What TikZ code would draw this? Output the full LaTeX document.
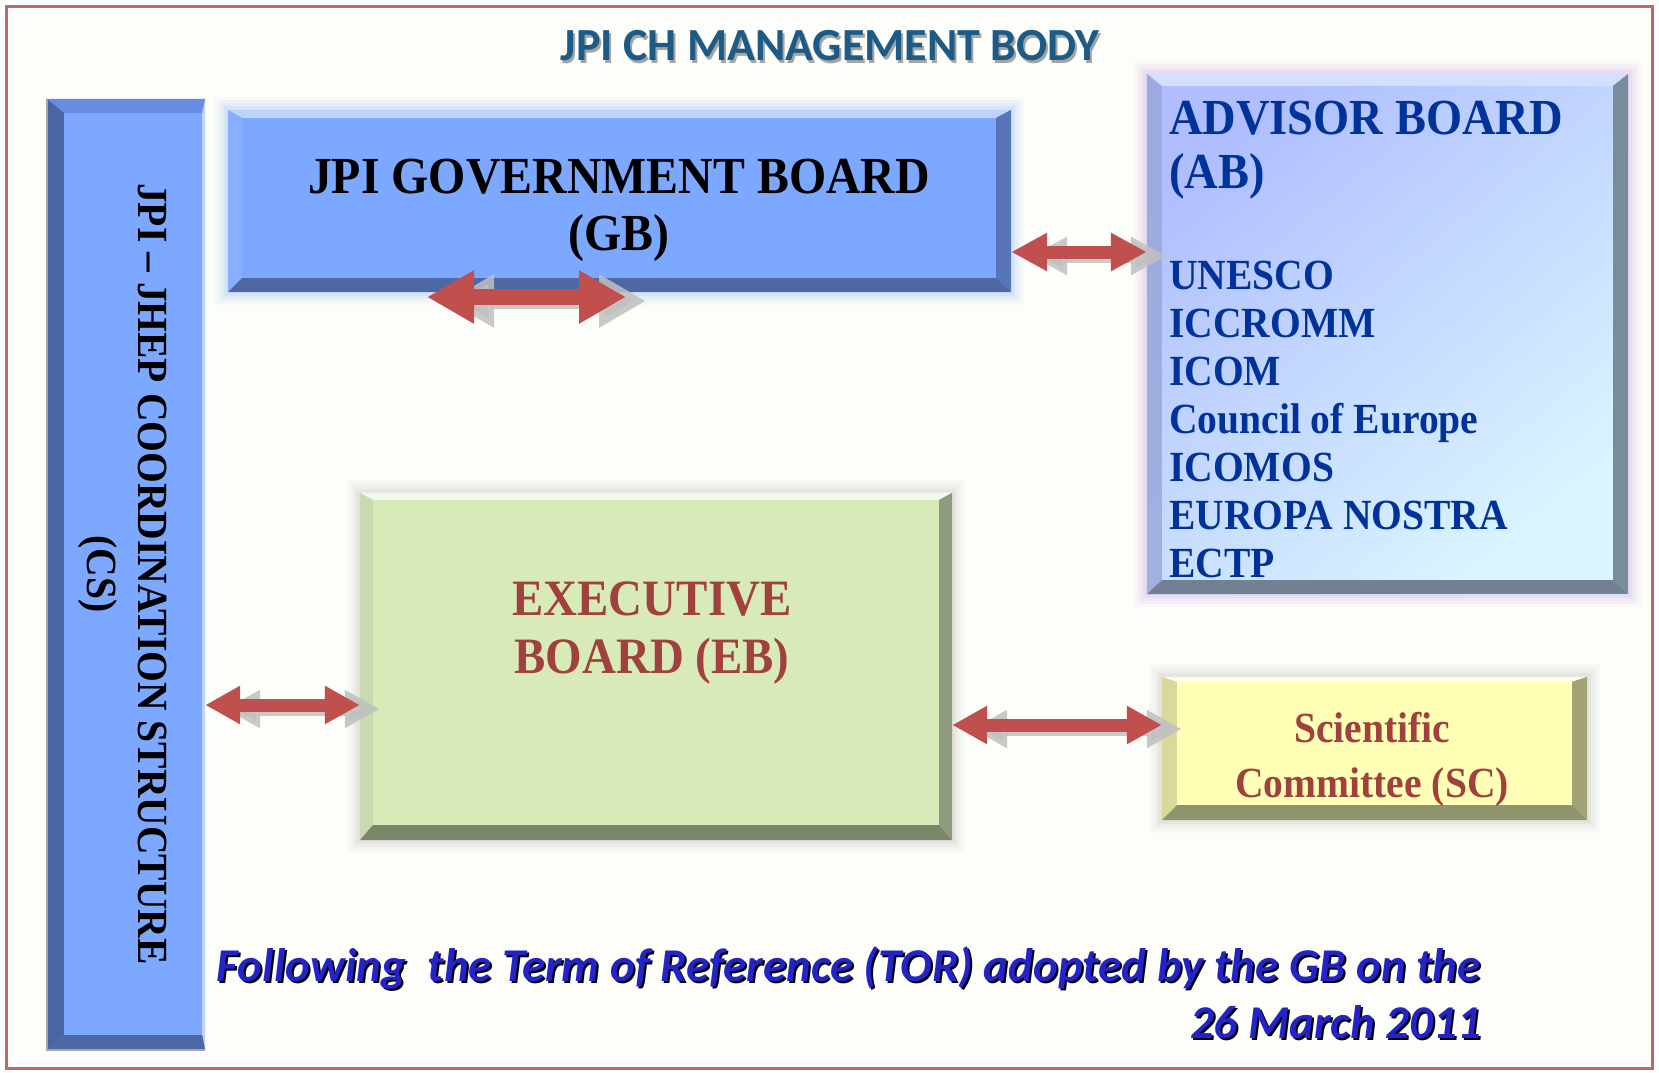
\documentclass[tikz,border=0pt]{standalone}
\usepackage{fontspec}
\setmainfont{Liberation Serif}[FakeStretch=0.92]
\newfontfamily\calibrifont{Carlito}
\usetikzlibrary{calc}
\usetikzlibrary{arrows.meta}

\definecolor{framered}{RGB}{190,105,105}
\definecolor{paper}{RGB}{253,253,249}
\definecolor{gbfill}{RGB}{124,168,255}
\definecolor{gbtop}{RGB}{190,212,255}
\definecolor{gbleft}{RGB}{134,176,255}
\definecolor{gbright}{RGB}{88,116,184}
\definecolor{gbbottom}{RGB}{78,104,166}
\definecolor{csleft}{RGB}{75,100,162}
\definecolor{cstop}{RGB}{102,140,228}
\definecolor{abtop}{RGB}{176,190,255}
\definecolor{abbottom}{RGB}{218,246,255}
\definecolor{abedgetop}{RGB}{212,222,255}
\definecolor{abedgeleft}{RGB}{152,166,216}
\definecolor{abedgeright}{RGB}{124,139,156}
\definecolor{abedgebottom}{RGB}{113,129,147}
\definecolor{ebfill}{RGB}{216,234,184}
\definecolor{ebtop}{RGB}{244,249,234}
\definecolor{ebleft}{RGB}{200,218,174}
\definecolor{ebright}{RGB}{142,155,128}
\definecolor{ebbottom}{RGB}{123,133,105}
\definecolor{scfill}{RGB}{255,255,181}
\definecolor{sctop}{RGB}{255,255,230}
\definecolor{scleft}{RGB}{217,217,154}
\definecolor{scright}{RGB}{163,162,119}
\definecolor{scbottom}{RGB}{143,148,108}
\definecolor{arrowred}{RGB}{192,80,77}
\definecolor{arrowgray}{RGB}{192,192,192}
\definecolor{glowblue}{RGB}{120,165,255}
\definecolor{glowpurple}{RGB}{190,140,225}
\definecolor{glowgray}{RGB}{170,170,170}
\definecolor{abblue}{RGB}{0,51,153}
\definecolor{darkred}{RGB}{161,65,63}
\definecolor{titleblue}{RGB}{29,91,135}
\definecolor{footblue}{RGB}{35,35,200}

\begin{document}
\begin{tikzpicture}[x=1pt,y=-1pt,
	box/.style={rectangle,inner sep=0pt,draw=none},
	glow/.style={preaction={draw=#1,line width=26pt,opacity=.05,rounded corners=12pt},preaction={draw=#1,line width=20pt,opacity=.06,rounded corners=9pt},preaction={draw=#1,line width=14pt,opacity=.08,rounded corners=6pt},preaction={draw=#1,line width=8pt,opacity=.12,rounded corners=3pt}},
	bigarrow/.style args={#1/#2/#3}{line width=#1,>={Triangle[width=#2,length=#3]},<->},
	arrowshadow/.style={draw=arrowgray,opacity=.85,transform canvas={xshift=20pt,yshift=-4pt}},
	label/.style={inner sep=0pt,font=\bfseries}]

		\useasboundingbox (0,0) rectangle (1659,1072);
		\fill[white] (0,0) rectangle (1659,1072);
		\draw[framered,line width=3pt,fill=paper] (6,6) rectangle (1652,1068);

		\node[label,anchor=base,text=black,opacity=.35,font=\calibrifont\bfseries\fontsize{46}{50}\selectfont] (titleshadow) at (832,63) {JPI CH MANAGEMENT BODY};
		\node[label,anchor=base,text=titleblue,font=\calibrifont\bfseries\fontsize{46}{50}\selectfont] (title) at (830,60) {JPI CH MANAGEMENT BODY};

		% coordination structure
		\node[box,fill=gbfill,minimum width=158pt,minimum height=951pt] (cs) at (126,574.5) {};
		\coordinate (cs1) at ($(cs.north west)+(17,14)$);
		\coordinate (cs2) at ($(cs.north east)+(-3,14)$);
		\coordinate (cs3) at ($(cs.south east)+(-3,-15)$);
		\coordinate (cs4) at ($(cs.south west)+(17,-15)$);
		\fill[cstop] (cs.north west) -- (cs.north east) -- (cs2) -- (cs1) -- cycle;
		\fill[csleft] (cs.north west) -- (cs1) -- (cs4) -- (cs.south west) -- cycle;
		\fill[gbtop] (cs.north east) -- (cs.south east) -- (cs3) -- (cs2) -- cycle;
		\fill[gbbottom] (cs.south west) -- (cs.south east) -- (cs3) -- (cs4) -- cycle;
		\draw[gray!70,line width=2pt] (cs.north west) -- (cs.south west) -- (cs.south east);
		\node[label,rotate=-90,align=center,font=\bfseries\fontsize{43}{51}\selectfont] (cstext) at (122.5,574) {JPI -- JHEP COORDINATION STRUCTURE\\(CS)};

		% government board
		\node[box,fill=gbfill,glow=glowblue,minimum width=783pt,minimum height=182pt] (gb) at (619.5,201) {};
		\coordinate (gb1) at ($(gb.north west)+(14,8)$);
		\coordinate (gb2) at ($(gb.north east)+(-15,8)$);
		\coordinate (gb3) at ($(gb.south east)+(-15,-14)$);
		\coordinate (gb4) at ($(gb.south west)+(14,-14)$);
		\fill[gbtop] (gb.north west) -- (gb.north east) -- (gb2) -- (gb1) -- cycle;
		\fill[gbleft] (gb.north west) -- (gb1) -- (gb4) -- (gb.south west) -- cycle;
		\fill[gbright] (gb.north east) -- (gb.south east) -- (gb3) -- (gb2) -- cycle;
		\fill[gbbottom] (gb.south west) -- (gb.south east) -- (gb3) -- (gb4) -- cycle;
		\node[label,anchor=north,align=center,font=\bfseries\fontsize{52}{57}\selectfont] (gbtext) at (619,159) {JPI GOVERNMENT BOARD\\(GB)};

		% advisor board
		\node[box,glow=glowpurple,top color=abtop,bottom color=abbottom,shading angle=40,minimum width=481pt,minimum height=520pt] (ab) at (1387.5,334) {};
		\coordinate (ab1) at ($(ab.north west)+(15,12)$);
		\coordinate (ab2) at ($(ab.north east)+(-15,12)$);
		\coordinate (ab3) at ($(ab.south east)+(-15,-14)$);
		\coordinate (ab4) at ($(ab.south west)+(15,-14)$);
		\fill[abedgetop] (ab.north west) -- (ab.north east) -- (ab2) -- (ab1) -- cycle;
		\fill[abedgeleft,opacity=.8] (ab.north west) -- (ab1) -- (ab4) -- (ab.south west) -- cycle;
		\fill[abedgeright] (ab.north east) -- (ab.south east) -- (ab3) -- (ab2) -- cycle;
		\fill[abedgebottom] (ab.south west) -- (ab.south east) -- (ab3) -- (ab4) -- cycle;
		\node[label,anchor=north west,align=left,text=abblue,font=\bfseries\fontsize{50.5}{54}\selectfont] (abtitle) at (1169,101) {ADVISOR BOARD\\(AB)};
		\node[label,anchor=north west,align=left,text=abblue,font=\bfseries\fontsize{43}{48}\selectfont] (ablist) at (1169,261) {UNESCO\\ICCROMM\\ICOM\\Council of Europe\\ICOMOS\\EUROPA NOSTRA\\ECTP};

		% executive board
		\node[box,fill=ebfill,glow=glowgray,minimum width=592pt,minimum height=347pt] (eb) at (656,666.5) {};
		\coordinate (eb1) at ($(eb.north west)+(13,7)$);
		\coordinate (eb2) at ($(eb.north east)+(-13,7)$);
		\coordinate (eb3) at ($(eb.south east)+(-13,-15)$);
		\coordinate (eb4) at ($(eb.south west)+(13,-15)$);
		\fill[ebtop] (eb.north west) -- (eb.north east) -- (eb2) -- (eb1) -- cycle;
		\fill[ebleft] (eb.north west) -- (eb1) -- (eb4) -- (eb.south west) -- cycle;
		\fill[ebright] (eb.north east) -- (eb.south east) -- (eb3) -- (eb2) -- cycle;
		\fill[ebbottom] (eb.south west) -- (eb.south east) -- (eb3) -- (eb4) -- cycle;
		\node[label,anchor=north,align=center,text=darkred,font=\bfseries\fontsize{51}{58}\selectfont] (ebtext) at (652,582) {EXECUTIVE\\BOARD (EB)};

		% scientific committee
		\node[box,fill=scfill,glow=glowgray,minimum width=425pt,minimum height=143pt] (sc) at (1374.5,748.5) {};
		\coordinate (sc1) at ($(sc.north west)+(15,5)$);
		\coordinate (sc2) at ($(sc.north east)+(-15,5)$);
		\coordinate (sc3) at ($(sc.south east)+(-15,-15)$);
		\coordinate (sc4) at ($(sc.south west)+(15,-15)$);
		\fill[sctop] (sc.north west) -- (sc.north east) -- (sc2) -- (sc1) -- cycle;
		\fill[scleft] (sc.north west) -- (sc1) -- (sc4) -- (sc.south west) -- cycle;
		\fill[scright] (sc.north east) -- (sc.south east) -- (sc3) -- (sc2) -- cycle;
		\fill[scbottom] (sc.south west) -- (sc.south east) -- (sc3) -- (sc4) -- cycle;
		\node[label,anchor=north,align=center,text=darkred,font=\bfseries\fontsize{43}{55}\selectfont] (sctext) at (1372,712) {Scientific\\Committee (SC)};

		% arrows
		\coordinate (gbleftend) at (427,297);
		\coordinate (gbrightend) at (626,297);
		\coordinate (ablevel) at (0,252);
		\coordinate (cslevel) at (0,705);
		\coordinate (sclevel) at (0,725);
		\draw[bigarrow=16pt/50pt/47pt,arrowshadow] (gbleftend) -- (gbrightend);
		\draw[bigarrow=16pt/50pt/47pt,draw=arrowred] (gbleftend) -- (gbrightend);
		\draw[bigarrow=13pt/36pt/36pt,arrowshadow] (gb.east |- ablevel) -- (ab.west |- ablevel);
		\draw[bigarrow=13pt/36pt/36pt,draw=arrowred] (gb.east |- ablevel) -- (ab.west |- ablevel);
		\draw[bigarrow=13pt/36pt/35pt,arrowshadow] (cs.east |- cslevel) -- (eb.west |- cslevel);
		\draw[bigarrow=13pt/36pt/35pt,draw=arrowred] (cs.east |- cslevel) -- (eb.west |- cslevel);
		\draw[bigarrow=13pt/36pt/35pt,arrowshadow] (eb.east |- sclevel) -- (sc.west |- sclevel);
		\draw[bigarrow=13pt/36pt/35pt,draw=arrowred] (eb.east |- sclevel) -- (sc.west |- sclevel);

		% footnote
		\node[label,anchor=north east,align=right,text=black,font=\calibrifont\bfseries\itshape\fontsize{47}{57}\selectfont] (footshadow) at (1483,948) {Following~ the Term of Reference (TOR) adopted by the GB on the\\26 March 2011};
		\node[label,anchor=north east,align=right,text=footblue,font=\calibrifont\bfseries\itshape\fontsize{47}{57}\selectfont] (foot) at (1481,946) {Following~ the Term of Reference (TOR) adopted by the GB on the\\26 March 2011};
\end{tikzpicture}
\end{document}
